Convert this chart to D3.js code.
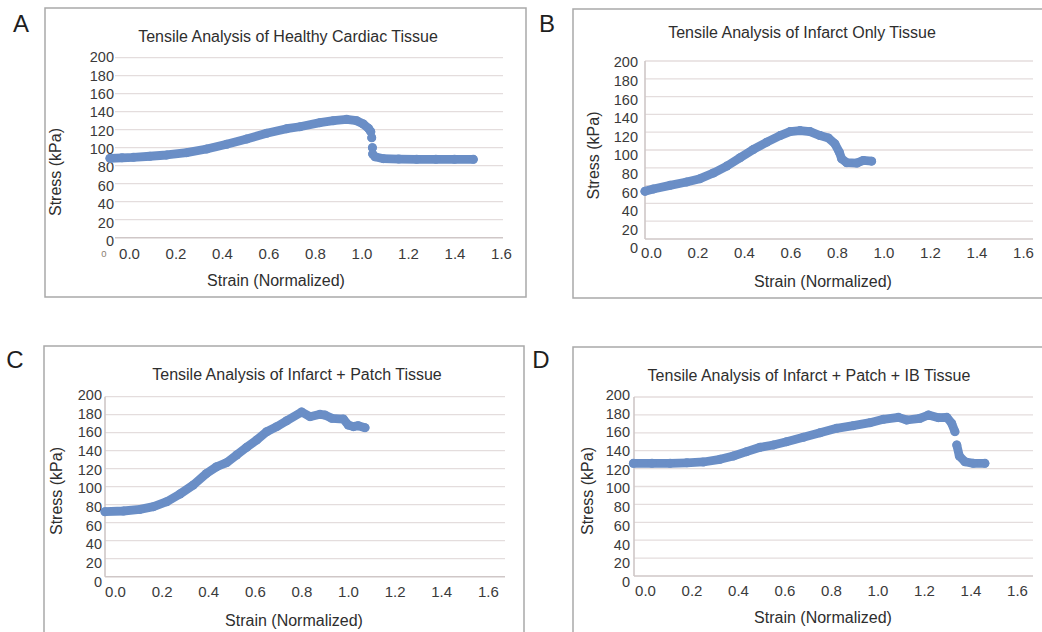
<!DOCTYPE html>
<html><head><meta charset="utf-8">
<script src="https://cdn.jsdelivr.net/npm/d3@7"></script>
<style>body{margin:0;background:#fff} svg{display:block} text{font-family:"Liberation Sans",Arial,sans-serif}</style>
</head><body>
<svg id="c" width="1042" height="632"></svg>
<script>
// ---------- data ----------
const panelLetters = ["A", "B", "C", "D"];
const panelTitles = [
  "Tensile Analysis of Healthy Cardiac Tissue",
  "Tensile Analysis of Infarct Only Tissue",
  "Tensile Analysis of Infarct + Patch Tissue",
  "Tensile Analysis of Infarct + Patch + IB Tissue"
];
const xAxisTitle = "Strain (Normalized)";
const yAxisTitle = "Stress (kPa)";
const strainTicks = [0, 0.2, 0.4, 0.6, 0.8, 1.0, 1.2, 1.4, 1.6];
const stressTicks = [0, 20, 40, 60, 80, 100, 120, 140, 160, 180, 200];

// [strain, stress]; null = visible gap between points
const healthyData = [
  [-0.082, 88.2], [-0.03, 88.8], [0.019, 89.3], [0.09, 90.5], [0.162, 91.9], [0.248, 94.5],
  [0.334, 98.6], [0.42, 103.8], [0.506, 109.7], [0.592, 116], [0.678, 121.1], [0.735, 123.3],
  [0.821, 127.8], [0.879, 130], [0.936, 131.5], [0.979, 130], [1.008, 126.3], [1.03, 121.5],
  [1.04, 117.8], null, [1.044, 111.1], null, [1.047, 100], null, [1.048, 93], [1.058, 90],
  [1.094, 87.8], [1.16, 87.4], [1.237, 87.1], [1.32, 87.1], [1.40, 87.1], [1.481, 87.1]
];
const infarctData = [
  [-0.026, 53.6], [0.01, 56.2], [0.082, 60.3], [0.153, 64.1], [0.211, 67.8], [0.268, 74.1],
  [0.326, 81.9], [0.383, 91.3], [0.44, 100.6], [0.498, 108.8], [0.555, 116.2], [0.598, 120.7],
  [0.641, 121.8], [0.684, 120.7], [0.727, 116.2], [0.763, 113.6], [0.791, 106.9], [0.81, 97.6],
  [0.82, 90.1], [0.842, 85.7], [0.885, 85.3], [0.913, 88.3], [0.949, 87.5]
];
const patchData = [
  [-0.043, 72.2], [0.036, 73], [0.107, 74.8], [0.165, 77.8], [0.222, 83.3], [0.279, 91.9],
  [0.336, 101.9], [0.393, 114.8], [0.436, 122.2], [0.479, 126.7], [0.522, 135.2], [0.565, 143.7],
  [0.608, 151.9], [0.651, 161.1], [0.694, 166.7], [0.737, 173.3], [0.801, 183], [0.837, 177.8],
  [0.88, 180.4], [0.901, 179.6], [0.93, 176], [0.98, 175.2], [1.001, 168.5], [1.023, 166.7],
  [1.044, 167.8], [1.073, 165.6]
];
const patchIBData = [
  [-0.05, 125.9], [0.03, 125.9], [0.108, 125.9], [0.18, 126.5], [0.251, 127.4], [0.323, 130.4],
  [0.38, 134.1], [0.437, 138.9], [0.495, 143.8], [0.552, 146.4], [0.609, 150.1], [0.681, 155],
  [0.753, 160.1], [0.824, 165], [0.896, 168], [0.968, 171.3], [1.025, 175.1], [1.09, 177.3],
  [1.126, 174.3], [1.183, 176.2], [1.219, 179.9], [1.262, 176.9], [1.298, 177.3], [1.319, 170.6],
  [1.333, 161.3], null, [1.341, 146.4], [1.352, 134.1], [1.376, 127.7], [1.412, 125.9], [1.462, 125.9]
];
const panelData = [healthyData, infarctData, patchData, patchIBData];

// ---------- layout ----------
const layouts = [
  {box:[45,8,526,297], letter:[21,31.5], gridL:115, gridR:503, yTop:57.7, yBot:237.7, lblTop:57.3, lblBot:240.7, lblRight:114,
   x0:129, xUnit:232.5, titleX:288, titleY:41.7, tickY:259.3, xTitleX:276, xTitleY:286, yTitleX:61, yTitleY:172, axisLine:false, extraZero:true},
  {box:[573,9,1046,298], letter:[547,31.5], gridL:645, gridR:1033, yTop:61, yBot:239, lblTop:62.3, lblBot:248.3, lblRight:638,
   x0:651, xUnit:232.5, titleX:802, titleY:37.5, tickY:257.7, xTitleX:823, xTitleY:287, yTitleX:599.3, yTitleY:155.5, axisLine:true},
  {box:[44,346,524,700], letter:[15,367.5], gridL:105, gridR:505, yTop:396.7, yBot:576.7, lblTop:395, lblBot:581.5, lblRight:102,
   x0:115, xUnit:233, titleX:297, titleY:380, tickY:597.3, xTitleX:294, xTitleY:626, yTitleX:61.7, yTitleY:491, axisLine:true},
  {box:[573,347,1046,700], letter:[541,367.5], gridL:634, gridR:1033, yTop:397, yBot:576, lblTop:395, lblBot:581.7, lblRight:630,
   x0:645, xUnit:232.5, titleX:809, titleY:380.7, tickY:595.7, xTitleX:823, xTitleY:623.3, yTitleX:592.7, yTitleY:491, axisLine:true}
];

const markColor = "#6a8ec6";
const svg = d3.select("#c");

layouts.forEach((L, i) => {
  const g = svg.append("g");
  // frame
  g.append("rect").attr("x", L.box[0]).attr("y", L.box[1])
    .attr("width", L.box[2] - L.box[0]).attr("height", L.box[3] - L.box[1])
    .attr("fill", "none").attr("stroke", "#a9a9a9").attr("stroke-width", 1.5);
  // letter
  g.append("text").attr("x", L.letter[0]).attr("y", L.letter[1]).attr("text-anchor", "middle")
    .attr("font-size", 24).attr("fill", "#1e1e1e").text(panelLetters[i]);
  // title
  g.append("text").attr("x", L.titleX).attr("y", L.titleY).attr("text-anchor", "middle")
    .attr("font-size", 16).attr("fill", "#2e2e2e").text(panelTitles[i]);

  const x = d3.scaleLinear().domain([0, 1.6]).range([L.x0, L.x0 + 1.6 * L.xUnit]);
  const y = d3.scaleLinear().domain([0, 200]).range([L.yBot, L.yTop]);
  const yLab = d3.scaleLinear().domain([0, 200]).range([L.lblBot, L.lblTop]);

  // gridlines
  g.append("g").selectAll("line").data(stressTicks).join("line")
    .attr("x1", L.gridL).attr("x2", L.gridR)
    .attr("y1", d => y(d)).attr("y2", d => y(d))
    .attr("stroke", d => (d === 0 ? "#cfc7c7" : "#e4dddd"))
    .attr("stroke-width", d => (d === 0 ? 1.6 : 1.3));
  if (L.axisLine) {
    g.append("line").attr("x1", L.gridL).attr("x2", L.gridL).attr("y1", L.yTop).attr("y2", L.yBot)
      .attr("stroke", "#cfc7c7").attr("stroke-width", 1.6);
  }

  // y tick labels
  const ya = g.append("g").attr("transform", `translate(${L.lblRight},0)`)
    .call(d3.axisLeft(yLab).tickValues(stressTicks).tickSize(0).tickPadding(0));
  ya.select(".domain").remove();
  ya.selectAll("text").attr("font-size", 14.5).attr("fill", "#3a3a3a")
    .attr("font-family", '"Liberation Sans",Arial,sans-serif');

  // x tick labels
  const xa = g.append("g").attr("transform", `translate(0,${L.tickY})`)
    .call(d3.axisBottom(x).tickValues(strainTicks).tickFormat(d3.format(".1f")).tickSize(0));
  xa.select(".domain").remove();
  xa.selectAll("text").attr("y", 0).attr("dy", 0).attr("font-size", 15).attr("fill", "#3a3a3a")
    .attr("font-family", '"Liberation Sans",Arial,sans-serif');

  if (L.extraZero) {
    g.append("text").attr("x", L.gridL - 11).attr("y", L.tickY - 2).attr("text-anchor", "middle")
      .attr("font-size", 9.5).attr("fill", "#8a7d70").text("0");
  }

  // axis titles
  g.append("text").attr("x", L.xTitleX).attr("y", L.xTitleY).attr("text-anchor", "middle")
    .attr("font-size", 16).attr("fill", "#2e2e2e").text(xAxisTitle);
  g.append("text").attr("transform", `translate(${L.yTitleX},${L.yTitleY}) rotate(-90)`)
    .attr("text-anchor", "middle").attr("font-size", 16).attr("fill", "#2e2e2e").text(yAxisTitle);

  // data: dense marker band
  const data = panelData[i];
  const line = d3.line().defined(d => d !== null).x(d => x(d[0])).y(d => y(d[1]));
  g.append("path").attr("d", line(data)).attr("fill", "none").attr("stroke", markColor)
    .attr("stroke-width", 8.8).attr("stroke-linecap", "round").attr("stroke-linejoin", "round");
  g.append("g").selectAll("circle").data(data.filter(d => d !== null)).join("circle")
    .attr("cx", d => x(d[0])).attr("cy", d => y(d[1])).attr("r", 4.5).attr("fill", markColor);
});
</script>
</body></html>
